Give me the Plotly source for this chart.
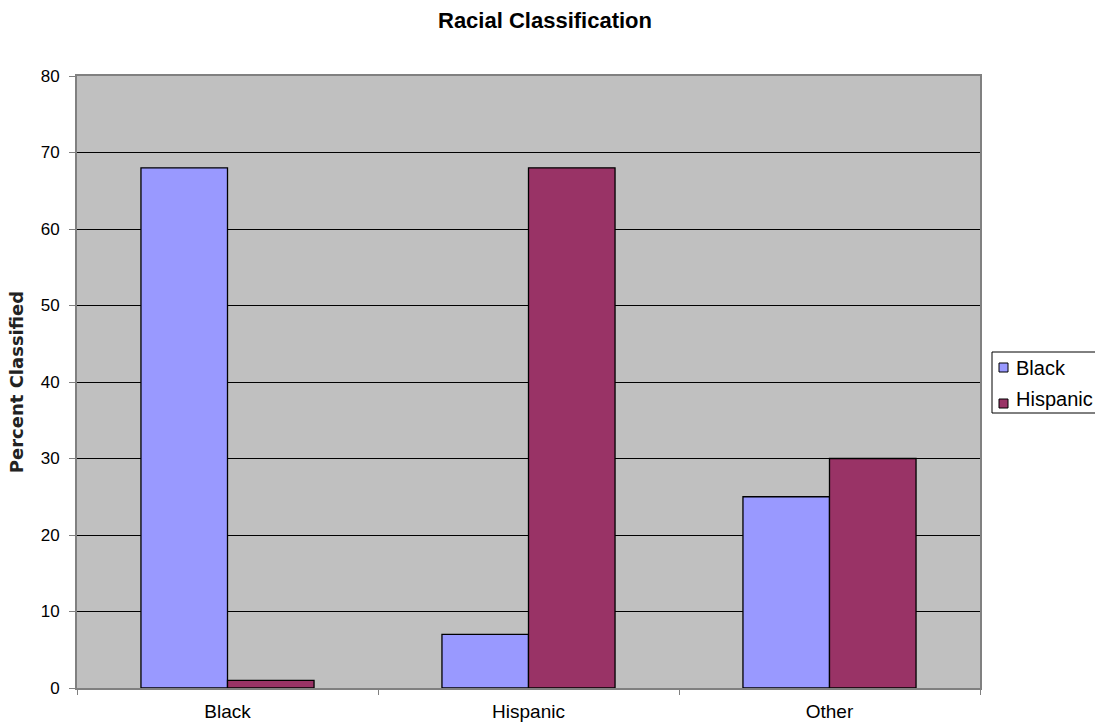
import plotly.graph_objects as go

categories = ["Black", "Hispanic", "Other"]
black_vals = [68, 7, 25]
hispanic_vals = [1, 68, 30]
series_names = ["Black", "Hispanic"]
series_colors = ["#9999FF", "#993366"]

# plot area in pixels (for placing the manual legend)
L, R, T, B = 77, 980, 76, 688
W, H = 1095, 727


def px_x(p):
    return (p - L) / (R - L)


def px_y(p):
    return (B - p) / (B - T)


fig = go.Figure()
for name, vals, col in zip(series_names, [black_vals, hispanic_vals], series_colors):
    fig.add_trace(go.Bar(x=categories, y=vals, name=name, showlegend=False,
                         marker=dict(color=col, line=dict(color="#000000", width=1.3))))

shapes = [
    dict(type="rect", xref="paper", yref="paper",
         x0=px_x(992), x1=px_x(1110), y0=px_y(413), y1=px_y(352),
         line=dict(color="#000000", width=1), fillcolor="white", layer="above"),
]
annotations = []
marker_y = [367.5, 403.5]
text_y = [368, 399]
for i, (name, col) in enumerate(zip(series_names, series_colors)):
    shapes.append(dict(type="rect", xref="paper", yref="paper",
                       x0=px_x(999), x1=px_x(1008),
                       y0=px_y(marker_y[i] + 4.5), y1=px_y(marker_y[i] - 4.5),
                       line=dict(color="#000000", width=1), fillcolor=col, layer="above"))
    annotations.append(dict(xref="paper", yref="paper", x=px_x(1014), y=px_y(text_y[i]),
                            xanchor="left", yanchor="middle", text=name, showarrow=False,
                            font=dict(size=20, color="#000000")))

fig.update_layout(
    width=W, height=H,
    margin=dict(l=L, r=W - R, t=T, b=H - B, autoexpand=False),
    paper_bgcolor="white",
    plot_bgcolor="#C0C0C0",
    barmode="group",
    bargap=0.425,
    bargroupgap=0,
    font=dict(family="Liberation Sans, Arial, sans-serif", size=17, color="#000000"),
    title=dict(text="<b>Racial Classification</b>", x=545 / W, xanchor="center",
               y=1 - 20 / H, yanchor="middle", font=dict(size=22)),
    showlegend=False,
    shapes=shapes,
    annotations=annotations,
    xaxis=dict(showgrid=False, ticks="outside", tickson="boundaries", ticklen=5,
               tickcolor="#808080", showline=True, linecolor="#808080", linewidth=2,
               mirror=True, tickfont=dict(size=19), ticklabelstandoff=5),
    yaxis=dict(range=[0, 80], dtick=10, showgrid=True, gridcolor="#000000", gridwidth=1,
               ticks="outside", ticklen=6, tickcolor="#808080",
               showline=True, linecolor="#808080", linewidth=2, mirror=True,
               zeroline=False, tickfont=dict(size=17), ticklabelstandoff=6,
               title=dict(text="<b>Percent Classified</b>",
                          font=dict(size=18, color="#222222", family="DejaVu Sans"),
                          standoff=12)),
)

fig.write_html("out.html")
